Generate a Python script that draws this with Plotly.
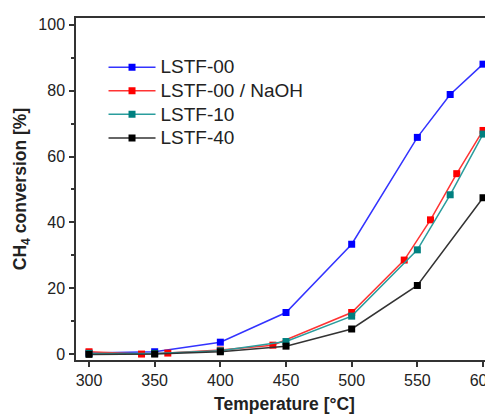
import plotly.graph_objects as go

# Data
x_00 = [300, 350, 400, 450, 500, 550, 575, 600]
y_00 = [0.4, 0.8, 3.7, 12.7, 33.4, 65.8, 78.8, 88.0]

x_naoh = [300, 340, 360, 400, 440, 500, 540, 560, 580, 600]
y_naoh = [0.8, 0.1, 0.4, 1.3, 2.8, 12.7, 28.6, 40.8, 54.8, 67.9]

x_10 = [300, 350, 400, 450, 500, 550, 575, 600]
y_10 = [0.3, 0.3, 1.1, 3.9, 11.6, 31.7, 48.4, 66.8]

x_40 = [300, 350, 400, 450, 500, 550, 600]
y_40 = [0.0, 0.1, 0.8, 2.5, 7.7, 20.9, 47.5]

names = ["LSTF-00", "LSTF-00 / NaOH", "LSTF-10", "LSTF-40"]
colors = ["#0000ff", "#ff0000", "#008080", "#000000"]
line_colors = ["#3333ff", "#ff3333", "#2a9d9d", "#333333"]

x_ticks = [300, 350, 400, 450, 500, 550, 600]
y_ticks = [0, 20, 40, 60, 80, 100]

FONT = "Liberation Sans, Arial, sans-serif"

fig = go.Figure()
for xs, ys, nm, c, lc in zip([x_00, x_naoh, x_10, x_40], [y_00, y_naoh, y_10, y_40],
                             names, colors, line_colors):
    fig.add_trace(go.Scatter(
        x=xs, y=ys, name='<span style="font-size:19px">' + nm + '</span>',
        mode="lines+markers",
        line=dict(color=lc, width=1.5),
        marker=dict(symbol="square", size=7, color=c, line=dict(width=0)),
    ))

axis_common = dict(
    showline=True, linecolor="#333333", linewidth=1.5,
    ticks="outside", tickcolor="#333333", tickwidth=1.5, ticklen=5,
    showgrid=False, zeroline=False,
    tickfont=dict(family=FONT, size=16, color="#222222"),
)

fig.update_layout(
    width=493, height=416,
    margin=dict(l=68, r=8, t=10, b=64, autoexpand=False),
    paper_bgcolor="white", plot_bgcolor="white",
    font=dict(family=FONT, color="#222222"),
    xaxis=dict(
        range=[290.1, 607.6], tickvals=x_ticks, mirror=True, ticklabelstandoff=0,
        title=dict(text="<b>Temperature [°C]</b>", font=dict(family=FONT, size=17.5, color="#222222"), standoff=10),
        **axis_common,
    ),
    yaxis=dict(
        range=[-1.7, 102], tickvals=y_ticks, mirror=False, ticklabelstandoff=1,
        minor=dict(tickvals=[10, 30, 50, 70, 90], ticks="outside", ticklen=3,
                   tickcolor="#333333", tickwidth=1.5),
        title=dict(text="<b>CH<sub>4</sub> conversion [%]</b>", font=dict(family=FONT, size=17.5, color="#222222"), standoff=7),
        **axis_common,
    ),
    legend=dict(
        x=0.066, y=0.905, xanchor="left", yanchor="top",
        bgcolor="rgba(0,0,0,0)", borderwidth=0,
        font=dict(family=FONT, size=15.8, color="#222222"),
        tracegroupgap=0, itemwidth=47,
    ),
    showlegend=True,
)

fig.write_html("out.html")
